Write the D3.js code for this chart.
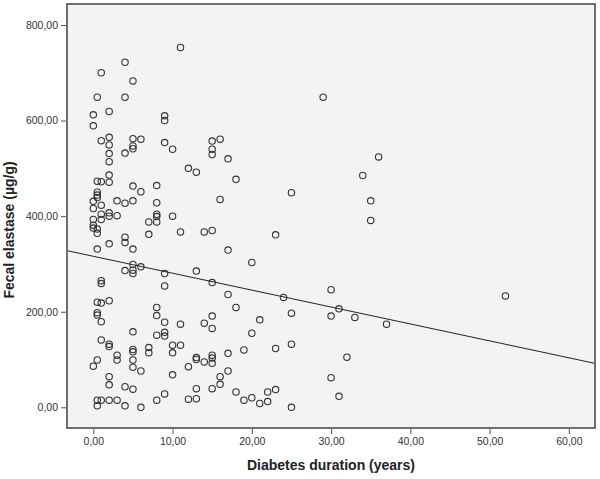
<!DOCTYPE html>
<html>
<head>
<meta charset="utf-8">
<script src="https://cdn.jsdelivr.net/npm/d3@7"></script>
<style>
  html, body { margin: 0; padding: 0; background: #ffffff; }
  svg { display: block; }
</style>
</head>
<body>
<svg id="chart" width="600" height="479"></svg>
<script>
// ---- Data ----
// Diabetes duration (years) for each observation
const durationYears = [
  0,0,0,0,0,0,0,0,
  0.5,0.5,0.5,0.5,0.5,0.5,0.5,0.5,0.5,0.5,0.5,0.5,0.5,0.5,
  1,1,1,1,1,1,1,1,1,1,1,1,
  2,2,2,2,2,2,2,2,2,2,2,2,2,2,2,2,
  3,3,3,3,3,
  4,4,4,4,4,4,4,4,4,
  5,5,5,5,5,5,5,5,5,5,5,5,5,5,5,5,
  6,6,6,6,6,
  7,7,7,7,
  8,8,8,8,8,8,8,8,8,
  9,9,9,9,9,9,9,9,9,
  10,10,10,10,10,
  11,11,11,11,
  12,12,12,
  13,13,13,13,13,13,
  14,14,14,
  15,15,15,15,15,15,15,15,15,15,15,
  16,16,16,16,
  17,17,17,17,17,
  18,18,18,
  19,19,
  20,20,20,
  21,21,
  22,22,
  23,23,23,
  24,
  25,25,25,25,
  29,
  30,30,30,
  31,31,
  32,
  33,
  34,
  35,35,
  36,
  37,
  52
];
// Fecal elastase (µg/g) for each observation, same order
const fecalElastase = [
  612,589,431,416,393,381,375,86,
  649,473,450,444,439,373,364,331,220,198,193,99,15,3,
  700,558,472,423,404,393,265,259,218,179,141,15,
  619,565,549,531,514,486,471,407,400,342,223,132,127,64,47,15,
  432,401,109,99,15,
  722,649,532,427,356,345,286,43,3,
  683,562,547,541,463,432,331,299,287,280,158,121,116,99,84,38,
  561,451,294,76,0,
  388,362,125,114,
  464,428,404,399,388,209,192,151,15,
  610,600,554,280,254,178,157,149,28,
  540,400,130,114,68,
  753,367,174,130,
  500,85,17,
  492,285,104,100,39,18,
  367,176,95,
  557,540,529,370,261,191,165,109,103,92,39,
  561,435,64,48,
  520,329,236,113,76,
  477,209,32,
  120,15,
  303,155,20,
  183,8,
  32,12,
  361,123,37,
  230,
  449,197,132,0,
  649,
  246,191,62,
  206,23,
  105,
  188,
  485,
  432,391,
  524,
  174,
  233
];
// Linear fit line shown in the chart (intercept, slope)
const fitIntercept = 316;
const fitSlope = -3.54;

// Axis ticks
const xTicks = [0, 10, 20, 30, 40, 50, 60];
const yTicks = [0, 200, 400, 600, 800];
const xDomain = [-3.32, 63.3];
const yDomain = [-43.3, 843.9];

const xTitle = "Diabetes duration (years)";
const yTitle = "Fecal elastase (µg/g)";

// ---- Drawing ----
const svg = d3.select("#chart");
const plot = { left: 67, top: 4, right: 595, bottom: 428 };

const x = d3.scaleLinear().domain(xDomain).range([plot.left, plot.right]);
const y = d3.scaleLinear().domain(yDomain).range([plot.bottom, plot.top]);

const locale = d3.formatLocale({ decimal: ",", thousands: ".", grouping: [3], currency: ["", ""] });
const fmt = locale.format(".2f");

// Plot background
svg.append("rect")
  .attr("x", plot.left).attr("y", plot.top)
  .attr("width", plot.right - plot.left).attr("height", plot.bottom - plot.top)
  .attr("fill", "#f3f3f3");

const clip = svg.append("defs").append("clipPath").attr("id", "clip")
  .append("rect")
  .attr("x", plot.left).attr("y", plot.top)
  .attr("width", plot.right - plot.left).attr("height", plot.bottom - plot.top);

// Axes
const xAxis = d3.axisBottom(x).tickValues(xTicks).tickFormat(fmt).tickSize(6).tickPadding(4);
const yAxis = d3.axisLeft(y).tickValues(yTicks).tickFormat(fmt).tickSize(6).tickPadding(3);

const gx = svg.append("g").attr("transform", `translate(0,${plot.bottom})`).call(xAxis);
const gy = svg.append("g").attr("transform", `translate(${plot.left},0)`).call(yAxis);

[gx, gy].forEach(g => {
  g.select(".domain").remove();
  g.selectAll(".tick line").attr("stroke", "#555").attr("stroke-width", 1);
  g.selectAll(".tick text")
    .attr("fill", "#333")
    .style("font-family", "Arial, 'Liberation Sans', sans-serif")
    .style("font-size", "10.5px");
});

// Points
const pts = durationYears.map((d, i) => ({ x: d, y: fecalElastase[i] }));
svg.append("g").attr("clip-path", "url(#clip)")
  .selectAll("circle")
  .data(pts)
  .join("circle")
  .attr("cx", d => x(d.x))
  .attr("cy", d => y(d.y))
  .attr("r", 3.2)
  .attr("fill", "none")
  .attr("stroke", "#333")
  .attr("stroke-width", 1.1);

// Fit line
const lineData = xDomain.map(v => ({ x: v, y: fitIntercept + fitSlope * v }));
svg.append("path")
  .datum(lineData)
  .attr("clip-path", "url(#clip)")
  .attr("fill", "none")
  .attr("stroke", "#222")
  .attr("stroke-width", 1)
  .attr("d", d3.line().x(d => x(d.x)).y(d => y(d.y)));

// Frame
svg.append("rect")
  .attr("x", plot.left).attr("y", plot.top)
  .attr("width", plot.right - plot.left).attr("height", plot.bottom - plot.top)
  .attr("fill", "none")
  .attr("stroke", "#6e6e6e")
  .attr("stroke-width", 2);

// Titles
svg.append("text")
  .attr("x", (plot.left + plot.right) / 2)
  .attr("y", 470)
  .attr("text-anchor", "middle")
  .style("font-family", "Arial, 'Liberation Sans', sans-serif")
  .style("font-size", "14px")
  .style("font-weight", "bold")
  .attr("fill", "#222")
  .text(xTitle);

svg.append("text")
  .attr("transform", "translate(14,230) rotate(-90)")
  .attr("text-anchor", "middle")
  .style("font-family", "Arial, 'Liberation Sans', sans-serif")
  .style("font-size", "14px")
  .style("font-weight", "bold")
  .attr("fill", "#222")
  .text(yTitle);
</script>
</body>
</html>
